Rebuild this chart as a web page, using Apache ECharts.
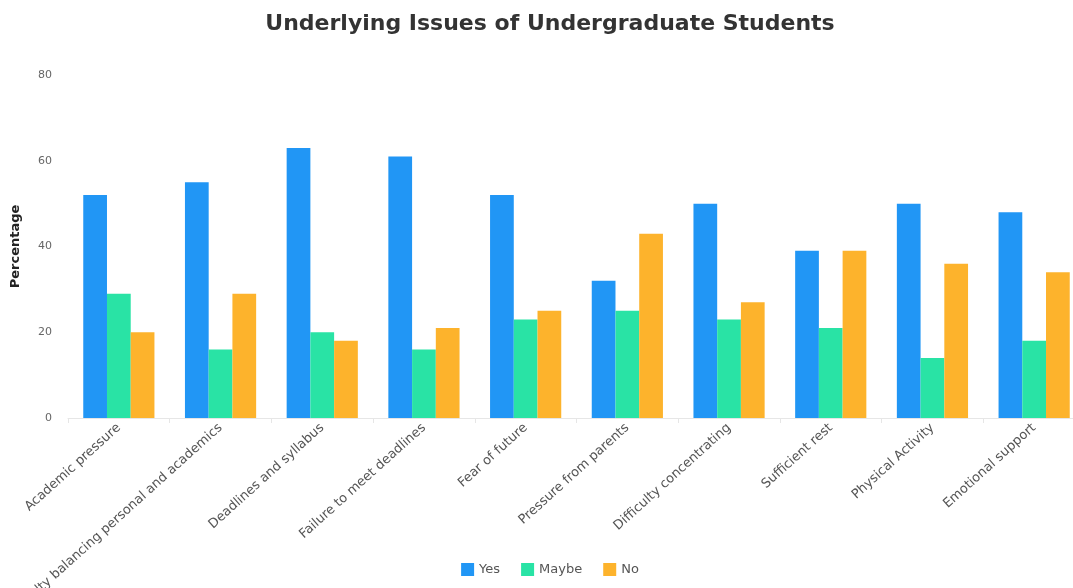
<!DOCTYPE html>
<html>
<head>
    <meta charset="utf-8" />
    <title>Underlying Issues of Undergraduate Students</title>
    <script src="https://cdn.jsdelivr.net/npm/echarts@6/dist/echarts.min.js"></script>
    <style type="text/css">
        * {
            margin: 0;
            padding: 0;
        }
        html, body {
            width: 100%;
            height: 100%;
            overflow: hidden;
            background: #fff;
        }
        #chart {
            width: 1100px;
            height: 588px;
        }
    </style>
</head>
<body>
    <div id="chart"></div>
</body>
</html>
<script type="text/javascript">
    // categories and series values
    var categories = [
        'Academic pressure',
        'Difficulty balancing personal and academics',
        'Deadlines and syllabus',
        'Failure to meet deadlines',
        'Fear of future',
        'Pressure from parents',
        'Difficulty concentrating',
        'Sufficient rest',
        'Physical Activity',
        'Emotional support'
    ];
    var yesData = [52, 55, 63, 61, 52, 32, 50, 39, 50, 48];
    var maybeData = [29, 16, 20, 16, 23, 25, 23, 21, 14, 18];
    var noData = [20, 29, 18, 21, 25, 43, 27, 39, 36, 34];

    var font = 'DejaVu Sans';
    var myChart = echarts.init(document.getElementById('chart'));

    var option = {
        color: ['#2196f5', '#29e3a5', '#fdb32c'],
        title: {
            text: 'Underlying Issues of Undergraduate Students',
            left: 'center',
            top: 8,
            textStyle: {
                fontFamily: font,
                fontSize: 22,
                fontWeight: 'bold',
                color: '#333'
            }
        },
        legend: {
            bottom: 7,
            left: 'center',
            itemWidth: 13,
            itemHeight: 13,
            itemGap: 21,
            icon: 'rect',
            textStyle: { fontFamily: font, fontSize: 13, color: '#555' },
            data: ['Yes', 'Maybe', 'No']
        },
        grid: {
            left: 68,
            right: 15,
            top: 75,
            bottom: 170,
            outerBoundsMode: 'none'
        },
        xAxis: {
            type: 'category',
            data: categories,
            axisLine: { lineStyle: { color: '#e6e6e6' } },
            axisTick: { show: true, lineStyle: { color: '#e6e6e6' } },
            axisLabel: {
                rotate: 42,
                interval: 0,
                fontFamily: font,
                fontSize: 13,
                color: '#555',
                margin: 8
            }
        },
        yAxis: {
            type: 'value',
            min: 0,
            max: 80,
            interval: 20,
            name: 'Percentage',
            nameLocation: 'middle',
            nameGap: 46,
            nameTextStyle: {
                fontFamily: font,
                fontSize: 13,
                fontWeight: 'bold',
                color: '#222'
            },
            axisLine: { show: false },
            axisTick: { show: false },
            splitLine: { show: false },
            axisLabel: {
                fontFamily: font,
                fontSize: 11,
                color: '#666',
                margin: 16
            }
        },
        series: [
            { name: 'Yes', type: 'bar', data: yesData, barGap: '0%', barCategoryGap: '30%' },
            { name: 'Maybe', type: 'bar', data: maybeData, barGap: '0%', barCategoryGap: '30%' },
            { name: 'No', type: 'bar', data: noData, barGap: '0%', barCategoryGap: '30%' }
        ]
    };

    myChart.setOption(option);
</script>
